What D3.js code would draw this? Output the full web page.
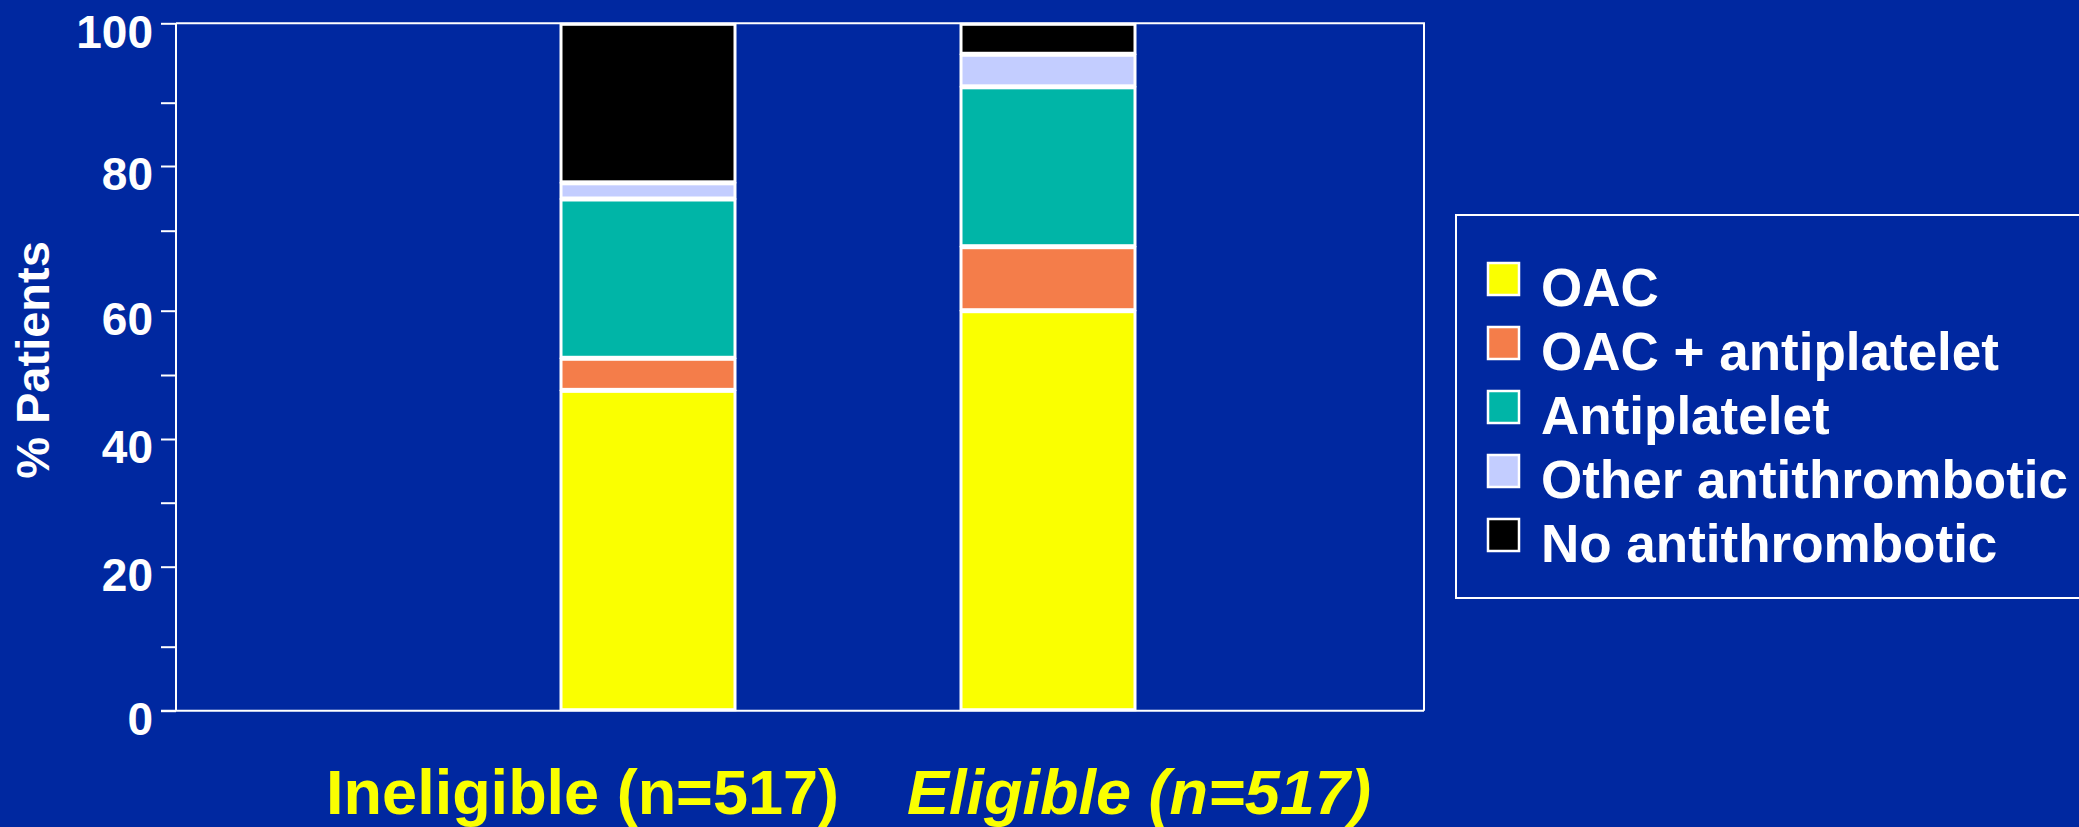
<!DOCTYPE html>
<html>
<head>
<meta charset="utf-8">
<script src="https://cdn.jsdelivr.net/npm/d3@7"></script>
<style>
  html, body { margin: 0; padding: 0; background: #0028A0; overflow: hidden; }
  svg { display: block; }
  text { font-family: "Liberation Sans", Arial, Helvetica, sans-serif; font-weight: bold; }
</style>
</head>
<body>
<svg id="chart" width="2079" height="827"></svg>
<script>
// ---- data ----
const categories = ["Ineligible (n=517)", "Eligible (n=517)"];
const seriesNames = ["OAC", "OAC + antiplatelet", "Antiplatelet", "Other antithrombotic", "No antithrombotic"];
const seriesColors = ["#FAFF00", "#F47D4A", "#00B5A7", "#C3CDFF", "#000000"];
const oacValues = [47.6, 60.0];
const oacAntiplateletValues = [5.0, 8.0];
const antiplateletValues = [22.3, 24.0];
const otherValues = [2.5, 4.1];
const noneValues = [22.6, 3.9];
const yTicksMajor = [0, 20, 40, 60, 80, 100];
const yTicksAll = [0, 10, 20, 30, 40, 50, 60, 70, 80, 90, 100];
const yAxisTitle = "% Patients";

// ---- build table ----
const table = categories.map((c, i) => ({
  cat: c,
  "OAC": oacValues[i],
  "OAC + antiplatelet": oacAntiplateletValues[i],
  "Antiplatelet": antiplateletValues[i],
  "Other antithrombotic": otherValues[i],
  "No antithrombotic": noneValues[i]
}));
const stacked = d3.stack().keys(seriesNames)(table);

const svg = d3.select("#chart");
const W = 2079, H = 827;
svg.append("rect").attr("width", W).attr("height", H).attr("fill", "#0028A0");

const plot = { left: 176, right: 1424, top: 23.3, bottom: 710.7 };

// y scale follows the (slightly uneven) tick spacing of the original slide
const y = d3.scaleLinear()
  .domain(yTicksAll)
  .range([710.7, 646.7, 566.7, 502.7, 439, 375, 310.7, 230.7, 166, 102.7, 23.3]);
const x = d3.scaleBand().domain(categories).range([560, 1136]).paddingInner(0.56).paddingOuter(0);
const color = d3.scaleOrdinal().domain(seriesNames).range(seriesColors);

// frame (top & right)
svg.append("path")
  .attr("d", `M${plot.left},${plot.top}H${plot.right}V${plot.bottom}`)
  .attr("fill", "none").attr("stroke", "#fff").attr("stroke-width", 2);

// bars
const g = svg.append("g");
g.selectAll("g.series").data(stacked).join("g")
  .attr("class", "series")
  .attr("fill", d => color(d.key))
  .selectAll("rect").data(d => d).join("rect")
  .attr("x", d => x(d.data.cat) + 1)
  .attr("width", x.bandwidth() - 2)
  .attr("y", d => y(d[1]) + 1)
  .attr("height", d => Math.max(0, y(d[0]) - y(d[1]) - 2))
  .attr("stroke", "#fff")
  .attr("stroke-width", 3);

// y axis
const yAxis = d3.axisLeft(y).tickValues(yTicksAll).tickSize(15).tickPadding(8)
  .tickFormat(d => yTicksMajor.includes(d) ? d : "");
const ya = svg.append("g").attr("transform", `translate(${plot.left},0)`).call(yAxis);
ya.select(".domain").attr("stroke", "#fff").attr("stroke-width", 2)
  .attr("d", `M0,${plot.top}V${plot.bottom}`);
ya.selectAll(".tick line").attr("stroke", "#fff").attr("stroke-width", 2);
ya.selectAll(".tick text").attr("fill", "#fff").attr("font-size", 46)
  .attr("font-family", "Liberation Sans, Arial, sans-serif").attr("font-weight", "bold")
  .attr("dy", "0.52em");

// x axis baseline
svg.append("line")
  .attr("x1", plot.left - 15).attr("x2", plot.right)
  .attr("y1", plot.bottom).attr("y2", plot.bottom)
  .attr("stroke", "#fff").attr("stroke-width", 2);

// x labels
const mid = (x(categories[0]) + x(categories[1]) + x.bandwidth()) / 2;
svg.append("text")
  .attr("x", mid - 9).attr("y", 814)
  .attr("text-anchor", "end").attr("fill", "#FAFF00").attr("font-size", 63)
  .text(categories[0]);
svg.append("text")
  .attr("x", mid + 59).attr("y", 814)
  .attr("text-anchor", "start").attr("fill", "#FAFF00").attr("font-size", 63)
  .attr("font-style", "italic")
  .text(categories[1]);

// y title
svg.append("text")
  .attr("transform", `translate(49,360) rotate(-90)`)
  .attr("text-anchor", "middle").attr("fill", "#fff").attr("font-size", 47)
  .text(yAxisTitle);

// legend
const lg = svg.append("g");
lg.append("rect").attr("x", 1456).attr("y", 215).attr("width", 700).attr("height", 383)
  .attr("fill", "none").attr("stroke", "#fff").attr("stroke-width", 2);
const rows = lg.selectAll("g.row").data(seriesNames).join("g")
  .attr("class", "row")
  .attr("transform", (d, i) => `translate(1487,${306 + i * 64})`);
rows.append("rect").attr("x", 1).attr("y", -43).attr("width", 31).attr("height", 32)
  .attr("fill", d => color(d)).attr("stroke", "#fff").attr("stroke-width", 2.5);
rows.append("text").attr("x", 54).attr("y", 0).attr("fill", "#fff").attr("font-size", 53)
  .text(d => d);
</script>
</body>
</html>
